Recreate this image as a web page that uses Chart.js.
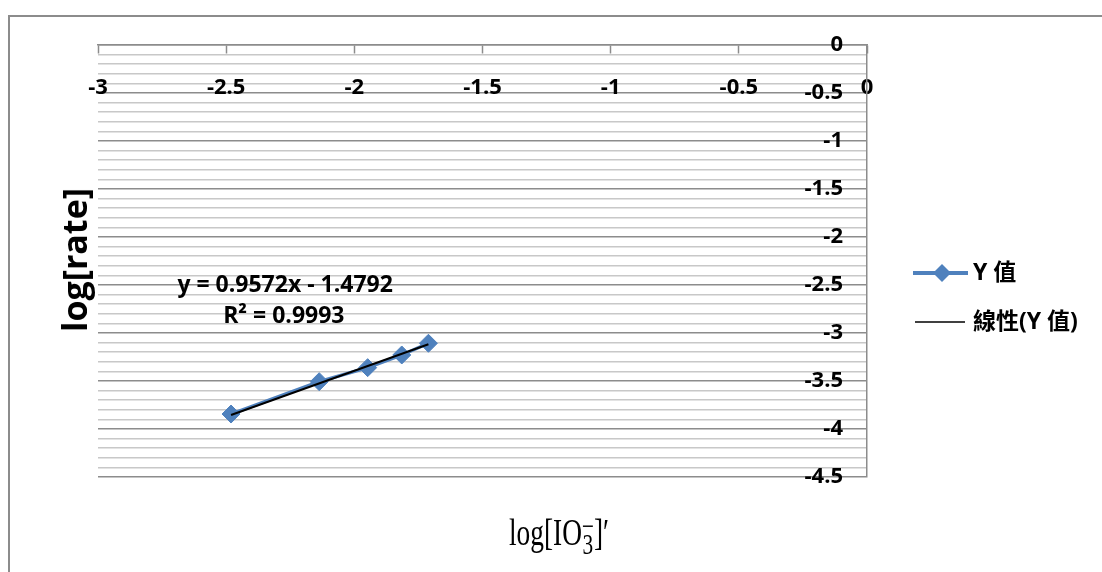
<!DOCTYPE html>
<html>
<head>
<meta charset="utf-8">
<script src="https://cdn.jsdelivr.net/npm/chart.js@4.4.0/dist/chart.umd.min.js"></script>
<style>
    body { margin: 0; background: #fff; }
    #wrap { position: relative; width: 1102px; height: 572px; overflow: hidden; }
    #frame { position: absolute; left: 8px; top: 15px; width: 1200px; height: 600px;
             border-top: 2px solid #8c8c8c; border-left: 2px solid #8c8c8c; }
    #chart { position: absolute; left: 0; top: 0; }
    #y-title { position: absolute; left: 74px; top: 260px; transform: translate(-50%, -50%) rotate(-90deg);
               font: bold 34px "Open Sans", sans-serif; white-space: nowrap; color: #000; }
    #x-title { position: absolute; left: 559px; top: 532px; transform: translate(-50%, -50%) scaleX(0.72);
               font: 38px "Liberation Serif", serif; white-space: nowrap; color: #000; }
    #x-title .stack { display: inline-block; vertical-align: -0.3em; line-height: 0.62em; text-align: center; font-size: 0.78em; }
</style>
</head>
<body>
<div id="wrap">
    <div id="frame"></div>
    <canvas id="chart" width="1102" height="572"></canvas>
    <div id="y-title">log[rate]</div>
    <div id="x-title">log[IO<span class="stack">&minus;<br>3</span>]&prime;</div>
</div>
<script>
// measured points
const xValues = [-2.481, -2.137, -1.948, -1.815, -1.711];
const yValues = [-3.844, -3.507, -3.361, -3.229, -3.107];

// linear trendline ends
const trendX = [-2.481, -1.711];
const trendY = [-3.854, -3.117];

const seriesName = 'Y 值';
const trendName = '線性(Y 值)';
const eqText = ['y = 0.9572x - 1.4792', 'R² = 0.9993'];
const eqAt = [[-2.27, -2.5], [-2.275, -2.83]];

const blue = '#4f81bd';
const majorGrid = '#8c8c8c';
const minorGrid = '#c8c8c8';
const tickFont = { family: '"Open Sans", sans-serif', size: 22, weight: 'bold' };

function isMajor(v) {
    return Math.abs(v * 2 - Math.round(v * 2)) < 1e-6;
}

function fmt(v) {
    return String(Math.round(v * 10) / 10);
}

// trendline equation + legend drawn on canvas
const extras = {
    id: 'extras',
    afterDraw(chart) {
        const ctx = chart.ctx;
        const xs = chart.scales.x, ys = chart.scales.y;
        ctx.save();
        ctx.fillStyle = '#000';
        ctx.font = 'bold 23px "Open Sans", sans-serif';
        ctx.textAlign = 'center';
        ctx.textBaseline = 'middle';
        eqText.forEach((t, i) => {
            ctx.fillText(t, xs.getPixelForValue(eqAt[i][0]), ys.getPixelForValue(eqAt[i][1]));
        });

        // legend
        const lx = chart.chartArea.right + 46;
        const rows = [273, 322];
        ctx.strokeStyle = blue;
        ctx.lineWidth = 4;
        ctx.beginPath();
        ctx.moveTo(lx, rows[0]);
        ctx.lineTo(lx + 55, rows[0]);
        ctx.stroke();
        ctx.fillStyle = blue;
        ctx.beginPath();
        const cx = lx + 29, r = 9;
        ctx.moveTo(cx - r, rows[0]);
        ctx.lineTo(cx, rows[0] - r);
        ctx.lineTo(cx + r, rows[0]);
        ctx.lineTo(cx, rows[0] + r);
        ctx.closePath();
        ctx.fill();

        ctx.strokeStyle = '#000';
        ctx.lineWidth = 1.5;
        ctx.beginPath();
        ctx.moveTo(lx + 2, rows[1]);
        ctx.lineTo(lx + 52, rows[1]);
        ctx.stroke();

        ctx.fillStyle = '#000';
        ctx.textAlign = 'left';
        ctx.font = 'bold 23px "Open Sans", "Noto Sans CJK TC", sans-serif';
        ctx.fillText(seriesName, lx + 60, rows[0]);
        ctx.fillText(trendName, lx + 60, rows[1]);
        ctx.restore();
    }
};

new Chart(document.getElementById('chart'), {
    type: 'scatter',
    data: {
        datasets: [{
            label: trendName,
            data: trendX.map((x, i) => ({ x: x, y: trendY[i] })),
            showLine: true,
            borderColor: '#000',
            borderWidth: 2,
            pointRadius: 0,
            order: 0
        }, {
            label: seriesName,
            data: xValues.map((x, i) => ({ x: x, y: yValues[i] })),
            showLine: true,
            borderColor: blue,
            backgroundColor: blue,
            borderWidth: 3.5,
            pointStyle: 'rectRot',
            pointRadius: 9,
            pointBorderWidth: 1,
            order: 1
        }]
    },
    options: {
        responsive: false,
        animation: false,
        devicePixelRatio: 1,
        layout: { padding: { left: 98, top: 45, right: 235, bottom: 95 } },
        plugins: { legend: { display: false }, tooltip: { enabled: false } },
        scales: {
            x: {
                type: 'linear',
                min: -3,
                max: 0,
                position: { y: 0 },
                ticks: { stepSize: 0.5, color: '#000', font: tickFont, padding: 22, maxRotation: 0, callback: fmt },
                grid: { drawOnChartArea: false, drawTicks: true, tickLength: 8, tickColor: majorGrid, tickWidth: 1.5 },
                border: { color: majorGrid, width: 1.5 }
            },
            y: {
                type: 'linear',
                min: -4.5,
                max: 0,
                position: 'right',
                afterFit: (s) => { s.width = 0; },
                ticks: {
                    stepSize: 0.1,
                    maxTicksLimit: 100,
                    autoSkip: false,
                    mirror: true,
                    padding: -24,
                    color: '#000',
                    font: tickFont,
                    callback: (v) => isMajor(v) ? fmt(v) : ''
                },
                grid: {
                    drawTicks: false,
                    lineWidth: 1.5,
                    color: (c) => isMajor(c.tick.value) ? majorGrid : minorGrid
                },
                border: { color: majorGrid, width: 1.5 }
            }
        }
    },
    plugins: [extras]
});
</script>
</body>
</html>
